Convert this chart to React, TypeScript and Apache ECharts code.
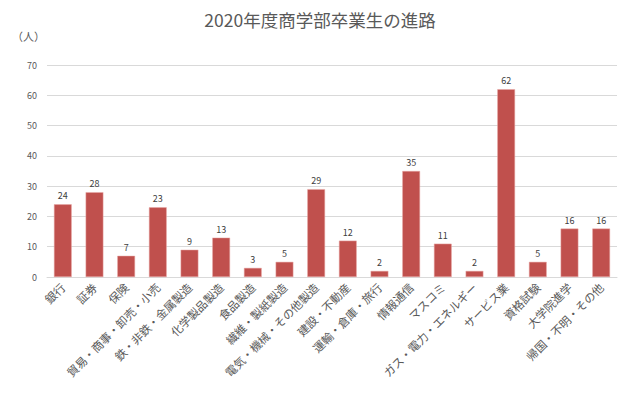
import React, { useEffect, useRef } from "react";
import * as echarts from "echarts";

const categories = [
  "銀行", "証券", "保険", "貿易・商事・卸売・小売", "鉄・非鉄・金属製造", "化学製品製造",
  "食品製造", "繊維・製紙製造", "電気・機械・その他製造", "建設・不動産", "運輸・倉庫・旅行",
  "情報通信", "マスコミ", "ガス・電力・エネルギー", "サービス業", "資格試験", "大学院進学", "帰国・不明・その他",
];
const values = [24, 28, 7, 23, 9, 13, 3, 5, 29, 12, 2, 35, 11, 2, 62, 5, 16, 16];
const titleText = "2020年度商学部卒業生の進路";
const unitText = "（人）";

export default function App() {
  const ref = useRef<HTMLDivElement>(null);
  useEffect(() => {
    const chart = echarts.init(ref.current!, null, { renderer: "svg" });
    const font = "'Noto Sans CJK JP', 'Noto Sans', sans-serif";
    chart.setOption({
      animation: false,
      backgroundColor: "#ffffff",
      textStyle: { fontFamily: font },
      title: {
        text: titleText,
        left: "center",
        top: 6,
        textStyle: { fontSize: 17.5, fontWeight: "normal", color: "#595959", fontFamily: font },
      },
      graphic: [
        {
          type: "text",
          left: 12,
          top: 30,
          style: { text: unitText, fontSize: 11, fill: "#595959", fontFamily: font },
        },
      ],
      grid: { left: 47, right: 23, top: 65, bottom: 120, containLabel: false },
      xAxis: {
        type: "category",
        data: categories,
        axisLine: { lineStyle: { color: "#d9d9d9" } },
        axisTick: { show: false },
        axisLabel: { rotate: 45, interval: 0, fontSize: 11.5, color: "#595959", margin: 8, fontFamily: font },
      },
      yAxis: {
        type: "value",
        min: 0,
        max: 70,
        interval: 10,
        axisLine: { show: false },
        axisTick: { show: false },
        axisLabel: { fontSize: 9, color: "#595959", margin: 10, fontFamily: font },
        splitLine: { lineStyle: { color: "#d9d9d9" } },
      },
      series: [
        {
          type: "bar",
          data: values,
          barWidth: "56%",
          itemStyle: { color: "#C0504D", borderColor: "#e8a9a7", borderWidth: 0.5 },
          label: { show: true, position: "top", fontSize: 9, color: "#404040", distance: 4, fontFamily: font },
        },
      ],
    });
    return () => chart.dispose();
  }, []);
  return <div ref={ref} style={{ position: "fixed", left: 0, top: 0, width: 640, height: 397 }} />;
}
